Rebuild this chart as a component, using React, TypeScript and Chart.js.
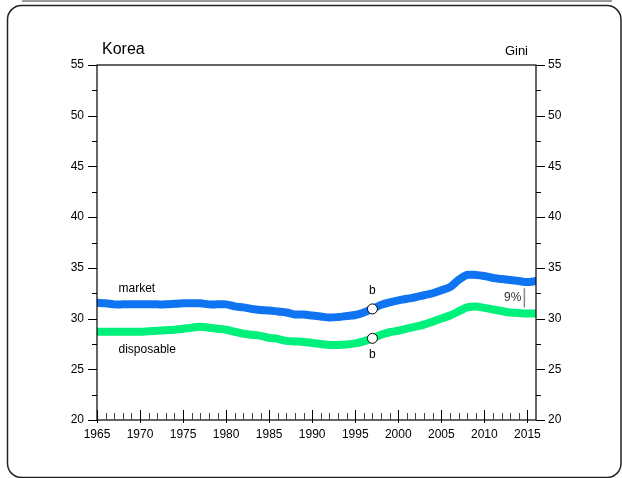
import React, { useEffect, useRef } from "react";
import { Chart, registerables } from "chart.js";

Chart.register(...registerables);

const years: number[] = [];
for (let y = 1965; y <= 2016; y++) years.push(y);

const marketGini = [
  31.55, 31.5, 31.4, 31.4, 31.4, 31.4, 31.4, 31.4, 31.4, 31.45,
  31.5, 31.5, 31.5, 31.4, 31.4, 31.4, 31.2, 31.1, 30.95, 30.85,
  30.8, 30.7, 30.6, 30.4, 30.4, 30.3, 30.2, 30.1, 30.15, 30.25,
  30.35, 30.6, 30.95, 31.35, 31.6, 31.8, 31.95, 32.1, 32.3, 32.5,
  32.8, 33.1, 33.8, 34.3, 34.3, 34.2, 34.0, 33.9, 33.8, 33.7,
  33.6, 33.7,
];

const disposableGini = [
  28.7, 28.7, 28.7, 28.7, 28.7, 28.7, 28.75, 28.8, 28.85, 28.9,
  29.0, 29.1, 29.2, 29.1, 29.0, 28.9, 28.7, 28.5, 28.4, 28.3,
  28.1, 28.0, 27.8, 27.75, 27.7, 27.6, 27.5, 27.4, 27.4, 27.45,
  27.55, 27.75, 28.05, 28.4, 28.65, 28.8, 29.0, 29.2, 29.4, 29.7,
  30.0, 30.3, 30.7, 31.1, 31.2, 31.05, 30.9, 30.75, 30.6, 30.55,
  30.5, 30.5,
];

const breakYears = [1997];
const breakMarket = [30.95];
const breakDisposable = [28.05];

const yTickValues = [20, 25, 30, 35, 40, 45, 50, 55];
const xLabelYears = [1965, 1970, 1975, 1980, 1985, 1990, 1995, 2000, 2005, 2010, 2015];

const seriesLabels = ["market", "disposable"];
const seriesLabelPos = [
  [1967.5, 32.9],
  [1967.5, 26.9],
];
const gapLabel = "9%";
const gapLabelPos = [2014.3, 32.1];
const gapLine = [2014.65, 31.1, 33.0];

const BLUE = "#0f74f2";
const GREEN = "#00f07c";
const FONT = "'Liberation Sans', Arial, Helvetica, sans-serif";

const decorPlugin = {
  id: "decor",
  beforeDraw(chart: any) {
    const ctx = chart.ctx;
    ctx.save();
    ctx.fillStyle = "#ffffff";
    ctx.fillRect(0, 0, chart.width, chart.height);
    ctx.strokeStyle = "#9a9a9a";
    ctx.lineWidth = 2;
    ctx.beginPath();
    ctx.moveTo(22, 1);
    ctx.lineTo(612, 1);
    ctx.stroke();
    ctx.strokeStyle = "#222";
    ctx.lineWidth = 1.5;
    const x0 = 7.5, y0 = 5.5, x1 = 621, y1 = 477.5, r = 14;
    ctx.beginPath();
    ctx.moveTo(x0 + r, y0);
    ctx.lineTo(x1 - r, y0);
    ctx.arcTo(x1, y0, x1, y0 + r, r);
    ctx.lineTo(x1, y1 - r);
    ctx.arcTo(x1, y1, x1 - r, y1, r);
    ctx.lineTo(x0 + r, y1);
    ctx.arcTo(x0, y1, x0, y1 - r, r);
    ctx.lineTo(x0, y0 + r);
    ctx.arcTo(x0, y0, x0 + r, y0, r);
    ctx.stroke();
    ctx.restore();
  },
  afterDraw(chart: any) {
    const ctx = chart.ctx;
    const xs = chart.scales.x;
    const ys = chart.scales.y;
    const { left, right, top, bottom } = chart.chartArea;
    ctx.save();
    ctx.strokeStyle = "#000";
    ctx.lineWidth = 1.2;
    ctx.strokeRect(left, top, right - left, bottom - top);
    ctx.lineWidth = 1;
    for (let v = 20; v <= 55; v += 2.5) {
      const py = Math.round(ys.getPixelForValue(v)) + 0.5;
      const major = v % 5 === 0;
      const len = major ? 9 : 5;
      ctx.beginPath();
      ctx.moveTo(left - len, py);
      ctx.lineTo(left, py);
      ctx.moveTo(right, py);
      ctx.lineTo(right + len, py);
      ctx.stroke();
    }
    for (let yr = years[0]; yr < years[years.length - 1]; yr++) {
      const px = Math.round(xs.getPixelForValue(yr)) + 0.5;
      const major = yr % 5 === 0;
      ctx.strokeStyle = major ? "#000" : "#444";
      ctx.beginPath();
      if (major) {
        ctx.moveTo(px, bottom + 3);
        ctx.lineTo(px, bottom - 10);
      } else {
        ctx.moveTo(px, bottom);
        ctx.lineTo(px, bottom - 7);
      }
      ctx.stroke();
    }
    ctx.fillStyle = "#000";
    ctx.textBaseline = "alphabetic";
    ctx.font = `16px ${FONT}`;
    ctx.textAlign = "left";
    ctx.fillText("Korea", 102, 54);
    ctx.font = `13px ${FONT}`;
    ctx.textAlign = "right";
    ctx.fillText("Gini", 528, 55);
    ctx.font = `12px ${FONT}`;
    ctx.textAlign = "left";
    ctx.textBaseline = "middle";
    seriesLabels.forEach((t, i) => {
      ctx.fillText(t, xs.getPixelForValue(seriesLabelPos[i][0]), ys.getPixelForValue(seriesLabelPos[i][1]));
    });
    ctx.textAlign = "center";
    breakYears.forEach((yr, i) => {
      const px = xs.getPixelForValue(yr);
      ctx.fillText("b", px, ys.getPixelForValue(breakMarket[i]) - 18);
      ctx.fillText("b", px, ys.getPixelForValue(breakDisposable[i]) + 16);
    });
    ctx.textAlign = "right";
    ctx.fillStyle = "#333";
    ctx.fillText(gapLabel, xs.getPixelForValue(gapLabelPos[0]), ys.getPixelForValue(gapLabelPos[1]));
    ctx.strokeStyle = "#888";
    ctx.lineWidth = 1.5;
    const gx = xs.getPixelForValue(gapLine[0]);
    ctx.beginPath();
    ctx.moveTo(gx, ys.getPixelForValue(gapLine[1]));
    ctx.lineTo(gx, ys.getPixelForValue(gapLine[2]));
    ctx.stroke();
    ctx.restore();
  },
};

export default function App() {
  const ref = useRef<HTMLCanvasElement | null>(null);
  useEffect(() => {
    if (!ref.current) return;
    const chart = new Chart(ref.current, {
      type: "line",
      data: {
        datasets: [
          {
            label: "market",
            data: years.map((x, i) => ({ x, y: marketGini[i] })),
            borderColor: BLUE,
            borderWidth: 8,
            pointRadius: 0,
            tension: 0.3,
            borderCapStyle: "round",
            borderJoinStyle: "round",
            yAxisID: "y",
            order: 1,
          },
          {
            label: "disposable",
            data: years.map((x, i) => ({ x, y: disposableGini[i] })),
            borderColor: GREEN,
            borderWidth: 8,
            pointRadius: 0,
            tension: 0.3,
            borderCapStyle: "round",
            borderJoinStyle: "round",
            yAxisID: "y",
            order: 1,
          },
          {
            label: "break",
            data: [
              ...breakYears.map((x, i) => ({ x, y: breakMarket[i] })),
              ...breakYears.map((x, i) => ({ x, y: breakDisposable[i] })),
            ],
            showLine: false,
            pointRadius: 5,
            pointBackgroundColor: "#ffffff",
            pointBorderColor: "#000000",
            pointBorderWidth: 1,
            yAxisID: "y",
            order: -1,
          },
        ],
      },
      options: {
        animation: false,
        responsive: false,
        maintainAspectRatio: false,
        layout: { padding: { top: 65, left: 0, right: 0, bottom: 0 } },
        plugins: {
          legend: { display: false },
          tooltip: { enabled: false },
        },
        scales: {
          x: {
            type: "linear",
            min: 1965,
            max: 2016,
            grid: { display: false, drawTicks: false },
            border: { display: false },
            afterFit: (s: any) => { s.height = 58; },
            afterBuildTicks: (s: any) => { s.ticks = xLabelYears.map((v) => ({ value: v })); },
            ticks: {
              autoSkip: false,
              maxRotation: 0,
              padding: 7,
              color: "#000",
              font: { family: FONT, size: 12 },
              callback: (v: any) => String(v),
            },
          },
          y: {
            position: "left",
            min: 20,
            max: 55,
            grid: { display: false, drawTicks: false },
            border: { display: false },
            afterFit: (s: any) => { s.width = 97; },
            afterBuildTicks: (s: any) => { s.ticks = yTickValues.map((v) => ({ value: v })); },
            ticks: { padding: 13, color: "#000", font: { family: FONT, size: 12 } },
          },
          y2: {
            position: "right",
            min: 20,
            max: 55,
            grid: { display: false, drawTicks: false },
            border: { display: false },
            afterFit: (s: any) => { s.width = 86; },
            afterBuildTicks: (s: any) => { s.ticks = yTickValues.map((v) => ({ value: v })); },
            ticks: { padding: 12, color: "#000", font: { family: FONT, size: 12 } },
          },
        },
      },
      plugins: [decorPlugin],
    });
    return () => chart.destroy();
  }, []);
  return (
    <div style={{ position: "absolute", left: 0, top: 0, width: 622, height: 478 }}>
      <canvas ref={ref} width={622} height={478} style={{ width: 622, height: 478 }} />
    </div>
  );
}
